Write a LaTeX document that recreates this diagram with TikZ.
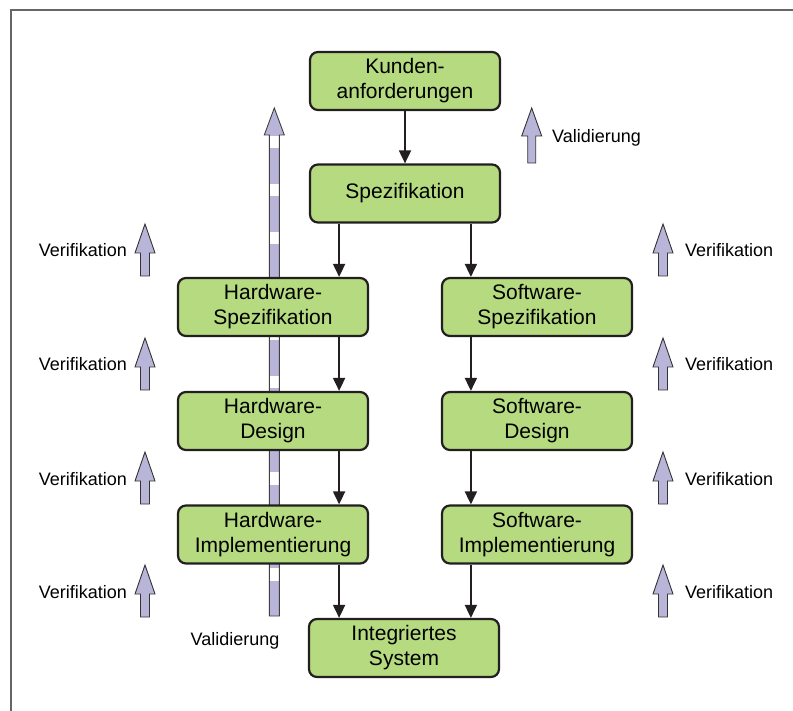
\documentclass[tikz,border=0pt]{standalone}
\usepackage{fontspec}
\setmainfont{Liberation Sans}
\usetikzlibrary{arrows.meta}
\definecolor{boxgreen}{RGB}{181,218,127}
\definecolor{boxline}{RGB}{35,31,32}
\definecolor{lavender}{RGB}{185,181,216}
\definecolor{framegray}{RGB}{102,102,102}
\begin{document}
\begin{tikzpicture}[x=1pt,y=-1pt,
        stage/.style={draw=boxline, fill=boxgreen, line width=2.2pt, rounded corners=8pt,
            minimum width=190pt, minimum height=58pt, inner sep=0pt, align=center,
            font=\fontsize{21}{25}\selectfont},
        flow/.style={draw=boxline, line width=1.8pt, -{Triangle[width=12pt,length=13pt]}},
        checkarrow/.style={fill=lavender, draw=black!80, line width=0.9pt, line join=miter},
        checklabel/.style={font=\fontsize{18}{21}\selectfont, inner sep=0pt}]
        \useasboundingbox (0,0) rectangle (793,711);
        \clip (0,0) rectangle (793,711);
        \draw[framegray, line width=2pt] (11.2,730) -- (11.2,10.3) -- (810,10.3);

        % Validierung (long arrow behind the hardware boxes)
        \fill[lavender] (269.3,135) -- (264.3,135) -- (274.3,108) -- (284.3,135) -- (279.3,135) -- (279.3,616) -- (269.3,616) -- cycle;
        \foreach \k in {0,...,9}
            \fill[white] (269.3,136+48*\k) rectangle (279.3,148.5+48*\k);
        \draw[black!75, line width=0.9pt, line join=miter] (269.3,135) -- (264.3,135) -- (274.3,108) -- (284.3,135) -- (279.3,135) -- (279.3,616) -- (269.3,616) -- cycle;

        \node[stage] (kunden) at (405,81) {Kunden-\\anforderungen};
        \node[stage] (spez) at (405,193.5) {Spezifikation};
        \node[stage] (hwspez) at (273,307) {Hardware-\\Spezifikation};
        \node[stage] (swspez) at (537,307) {Software-\\Spezifikation};
        \node[stage] (hwdes) at (273,421) {Hardware-\\Design};
        \node[stage] (swdes) at (537,421) {Software-\\Design};
        \node[stage] (hwimp) at (273,534.5) {Hardware-\\Implementierung};
        \node[stage] (swimp) at (537,534.5) {Software-\\Implementierung};
        \node[stage] (system) at (404,648) {Integriertes\\System};

        \draw[flow] (kunden) -- (spez);
        \draw[flow] ([xshift=-30pt]hwspez.north east |- spez.south) -- ([xshift=-30pt]hwspez.north east);
        \draw[flow] ([xshift=30pt]swspez.north west |- spez.south) -- ([xshift=30pt]swspez.north west);
        \draw[flow] ([xshift=-30pt]hwspez.south east) -- ([xshift=-30pt]hwdes.north east);
        \draw[flow] ([xshift=30pt]swspez.south west) -- ([xshift=30pt]swdes.north west);
        \draw[flow] ([xshift=-30pt]hwdes.south east) -- ([xshift=-30pt]hwimp.north east);
        \draw[flow] ([xshift=30pt]swdes.south west) -- ([xshift=30pt]swimp.north west);
        \draw[flow] ([xshift=-30pt]hwimp.south east) -- ([xshift=-30pt]hwimp.south east |- system.north);
        \draw[flow] ([xshift=30pt]swimp.south west) -- ([xshift=30pt]swimp.south west |- system.north);

        % Verifikation arrows on both sides
        \foreach \c [count=\i] in {250,364,478,591}{
            \foreach \x in {145,663}
                \draw[checkarrow] (\x-4.5,\c+26) -- (\x-4.5,\c+3) -- (\x-10,\c+3) -- (\x,\c-26) -- (\x+10,\c+3) -- (\x+4.5,\c+3) -- (\x+4.5,\c+26) -- cycle;
            \node[checklabel, anchor=base east] (verleft\i) at (127,\c+7) {Verifikation};
            \node[checklabel, anchor=base west] (verright\i) at (685,\c+7) {Verifikation};
        }
        \draw[checkarrow] (527.7,163) -- (527.7,136) -- (521.7,136) -- (531.7,108) -- (541.7,136) -- (535.7,136) -- (535.7,163) -- cycle;
        \node[checklabel, anchor=base west] (valtop) at (552,143) {Validierung};
        \node[checklabel, anchor=base] (valbottom) at (235,645) {Validierung};
\end{tikzpicture}
\end{document}
